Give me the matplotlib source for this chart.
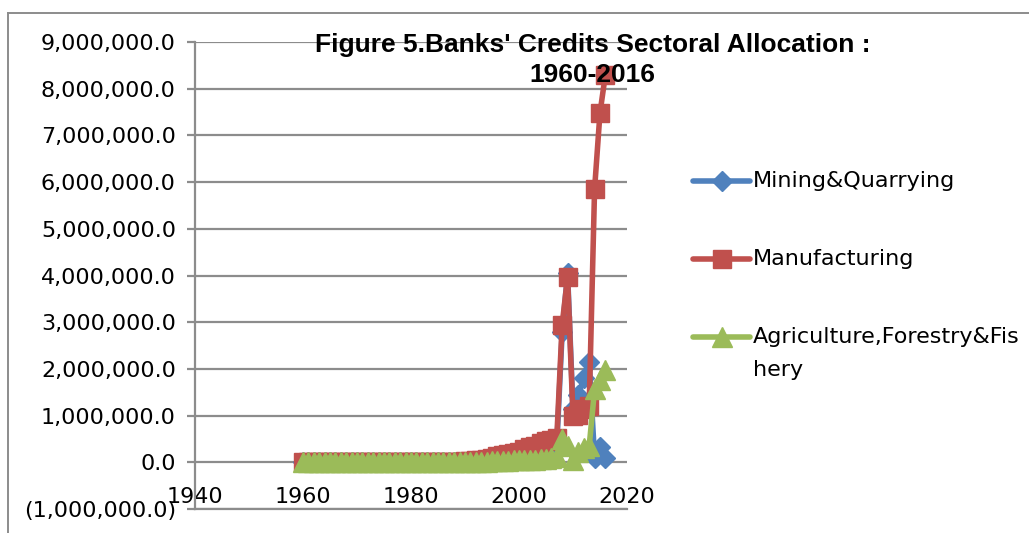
"""
Banks' credits sectoral allocation, 1960-2016
"""

import matplotlib.pyplot as plt
from matplotlib.lines import Line2D
from matplotlib.ticker import FuncFormatter, MultipleLocator

years = list(range(1960, 2017))

mining = [
    3.5, 4.0, 4.6, 5.2, 6.1, 7.3, 8.0, 9.4, 11.2, 13.5,
    18.0, 25.6, 34.1, 45.8, 58.2, 90.4, 130.7, 175.3, 220.6, 260.1,
    310.5, 402.8, 498.2, 560.7, 610.3, 660.9, 820.4, 1050.2, 1320.6, 1700.5,
    5000.0, 8000.0, 12000.0, 20000.0, 30000.0, 45000.0, 60000.0, 75000.0, 90000.0, 110000.0,
    130000.0, 150000.0, 180000.0, 210000.0, 240000.0, 270000.0, 300000.0, 350000.0, 2800000.0, 4050000.0,
    1150000.0, 1450000.0, 1800000.0, 2150000.0, 100000.0, 330000.0, 100000.0,
]

manufacturing = [
    10.2, 14.1, 16.8, 20.6, 27.4, 33.5, 41.0, 37.8, 45.0, 52.3,
    88.0, 107.8, 153.3, 180.4, 232.6, 395.3, 545.2, 732.7, 980.5, 1283.0,
    2011.0, 2714.7, 3243.0, 3561.4, 3830.2, 4119.8, 4982.6, 6011.5, 7254.9, 8562.6,
    20000.0, 30000.0, 45000.0, 60000.0, 80000.0, 100000.0, 125000.0, 150000.0, 170000.0, 200000.0,
    230000.0, 290000.0, 320000.0, 360000.0, 420000.0, 450000.0, 480000.0, 520000.0, 2950000.0, 3970000.0,
    1000000.0, 1020000.0, 1150000.0, 1200000.0, 5850000.0, 7480000.0, 8300000.0,
]

agriculture = [
    1.1, 1.6, 2.0, 2.4, 3.1, 4.0, 4.9, 5.7, 6.4, 7.9,
    12.3, 16.0, 21.5, 28.8, 37.6, 60.4, 90.2, 130.5, 180.3, 240.9,
    350.7, 590.0, 788.0, 940.5, 1050.3, 1310.0, 1830.3, 2430.0, 3066.7, 3470.5,
    6000.0, 7000.0, 9000.0, 12000.0, 15000.0, 20000.0, 25000.0, 30000.0, 35000.0, 40000.0,
    45000.0, 50000.0, 55000.0, 60000.0, 70000.0, 80000.0, 100000.0, 120000.0, 500000.0, 350000.0,
    60000.0, 220000.0, 300000.0, 340000.0, 1560000.0, 1760000.0, 1980000.0,
]

# label lines as they wrap in the legend box
series = [
    (["Mining&Quarrying"], mining, "#4F81BD", "D", 10),
    (["Manufacturing"], manufacturing, "#C0504D", "s", 13),
    (["Agriculture,Forestry&Fis", "hery"], agriculture, "#9BBB59", "^", 14),
]

GRID = "#8C8C8C"
plt.rcParams['font.family'] = ['DejaVu Sans']

fig = plt.figure(figsize=(10.29, 5.33), dpi=100)
ax = fig.add_axes([0.1895, 0.045, 0.4198, 0.876])

for name, vals, color, marker, ms in series:
    ax.plot(years, vals, color=color, linewidth=4, marker=marker, markersize=ms,
            markerfacecolor=color, markeredgecolor=color, clip_on=False)

ax.set_xlim(1940, 2020)
ax.set_ylim(-1000000, 9000000)
ax.xaxis.set_major_locator(MultipleLocator(20))
ax.yaxis.set_major_locator(MultipleLocator(1000000))


def money(v, pos):
    if v < 0:
        return "({:,.1f})".format(-v)
    return "{:,.1f}".format(v)


ax.yaxis.set_major_formatter(FuncFormatter(money))
ax.grid(axis='y', color=GRID, linewidth=1.6)
ax.set_axisbelow(True)

for side in ['top', 'right']:
    ax.spines[side].set_visible(False)
for side in ['left', 'bottom']:
    ax.spines[side].set_color(GRID)
    ax.spines[side].set_linewidth(1.6)

ax.tick_params(axis='y', direction='out', length=5.8, width=1.6, color=GRID,
               labelsize=16, pad=8)
ax.tick_params(axis='x', direction='out', length=0, labelsize=16, pad=-16)

# chart area frame
fig.add_artist(Line2D([8 / 1029, 1.0], [1 - 13 / 533, 1 - 13 / 533],
                      color=GRID, linewidth=1.4, transform=fig.transFigure))
fig.add_artist(Line2D([8 / 1029, 8 / 1029], [0.0, 1 - 13 / 533],
                      color=GRID, linewidth=1.4, transform=fig.transFigure))

fig.text(0.576, 1 - 33 / 533,
         "Figure 5.Banks' Credits Sectoral Allocation :\n1960-2016",
         ha='center', va='top', fontsize=19, fontweight='bold',
         family='Liberation Sans', linespacing=1.3)

# legend, one entry per series
legend_y = [181, 259, 337]
for (lines, vals, color, marker, ms), ly in zip(series, legend_y):
    yf = 1 - ly / 533
    fig.add_artist(Line2D([693 / 1029, 750 / 1029], [yf, yf], color=color, linewidth=4,
                          solid_capstyle='round', transform=fig.transFigure))
    fig.add_artist(Line2D([722 / 1029], [yf], color=color, marker=marker, markersize=ms,
                          markerfacecolor=color, markeredgecolor=color,
                          transform=fig.transFigure))
    for i, line in enumerate(lines):
        fig.text(753 / 1029, 1 - (ly + 33 * i) / 533, line, ha='left', va='center',
                 fontsize=16)

fig.savefig("out.png", dpi=100)
